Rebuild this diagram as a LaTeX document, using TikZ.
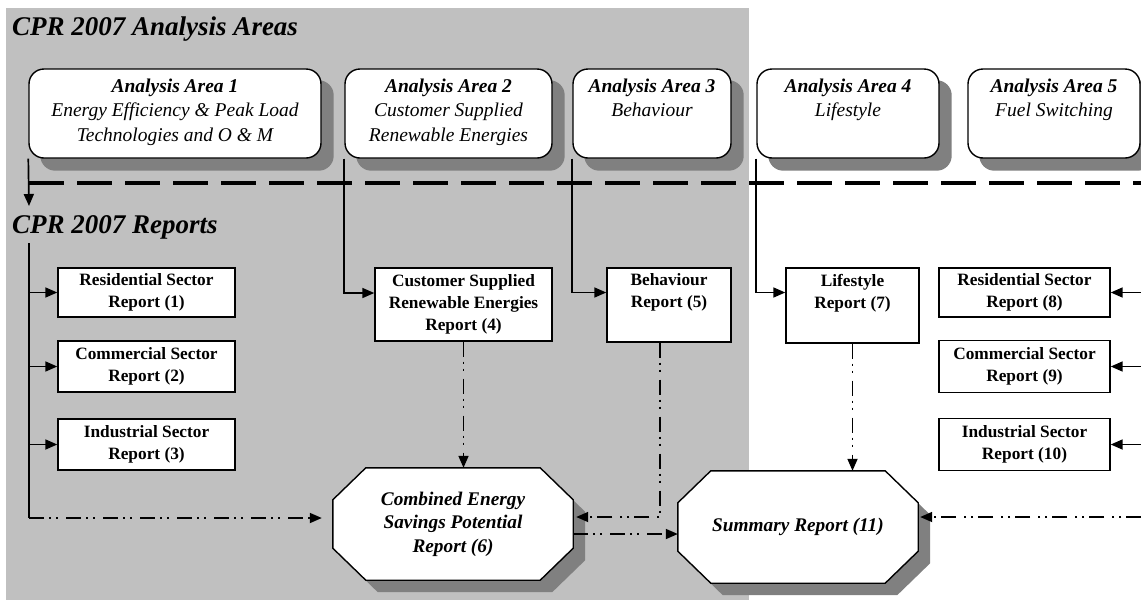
\documentclass[tikz,border=0pt]{standalone}
\usepackage{fontspec}
\setmainfont{Liberation Serif}
\usetikzlibrary{arrows.meta,calc}
\definecolor{bggray}{HTML}{C0C0C0}
\definecolor{shgray}{HTML}{808080}
\pgfdeclarelayer{back}
\pgfdeclarelayer{shade}
\pgfsetlayers{back,shade,main}
\newcommand\octpath[3]{([shift={(33+#2,#3)}]#1.north west) -- ([shift={(-33+#2,#3)}]#1.north east) -- ([shift={(#2,32+#3)}]#1.north east) -- ([shift={(#2,-32+#3)}]#1.south east) -- ([shift={(-33+#2,#3)}]#1.south east) -- ([shift={(33+#2,#3)}]#1.south west) -- ([shift={(#2,-32+#3)}]#1.south west) -- ([shift={(#2,32+#3)}]#1.north west) -- cycle}
\tikzset{
 area/.style={draw, line width=1.4pt, rounded corners=15pt, fill=white, inner sep=0pt, align=center, minimum height=89pt, font=\fontsize{19.5}{24.5}\selectfont\itshape},
 report/.style={draw, line width=1.4pt, fill=white, inner sep=0pt, align=center, font=\fontsize{17.3}{22}\selectfont\bfseries},
 octtext/.style={inner sep=0pt, align=center, minimum width=240pt, minimum height=112pt, font=\fontsize{19.3}{23.5}\selectfont\bfseries\itshape},
 conn/.style={line width=1.7pt, -{Triangle[length=12pt,width=10pt]}},
 plain/.style={line width=1.7pt},
 dd/.style={conn, dash pattern=on 15pt off 5pt on 2pt off 5pt on 2pt off 8pt},
 heading/.style={anchor=base west, inner sep=0pt, font=\fontsize{27}{30}\selectfont\bfseries\itshape},
}
\begin{document}
\begin{tikzpicture}[x=1pt,y=-1pt]
\useasboundingbox (0,0) rectangle (1141,603);
\begin{pgfonlayer}{back}
\fill[bggray] (6,8) rectangle (749,600);
\end{pgfonlayer}

\node[heading] (t1) at (12,35) {CPR 2007 Analysis Areas};
\node[heading] (t2) at (12,233) {CPR 2007 Reports};

% analysis areas
\node[area, minimum width=292pt] (a1) at (175,113.5) {\textbf{Analysis Area 1}\\ Energy Efficiency \& Peak Load\\ Technologies and O \& M\strut};
\node[area, minimum width=207pt] (a2) at (448.5,113.5) {\textbf{Analysis Area 2}\\ Customer Supplied\\ Renewable Energies\strut};
\node[area, minimum width=158pt] (a3) at (652,113.5) {\textbf{Analysis Area 3}\\ Behaviour\\ \strut};
\node[area, minimum width=182pt] (a4) at (848,113.5) {\textbf{Analysis Area 4}\\ Lifestyle\\ \strut};
\node[area, minimum width=172pt] (a5) at (1054,113.5) {\textbf{Analysis Area 5}\\ Fuel Switching\\ \strut};

% reports
\node[report, minimum width=177pt, minimum height=49pt] (r1) at (146.5,292.5) {Residential Sector\\ Report (1)};
\node[report, minimum width=177pt, minimum height=51pt] (r2) at (146.5,366.5) {Commercial Sector\\ Report (2)};
\node[report, minimum width=177pt, minimum height=51pt] (r3) at (146.5,444.5) {Industrial Sector\\ Report (3)};
\node[report, minimum width=177pt, minimum height=73pt] (r4) at (463.5,304.5) {Customer Supplied\\ Renewable Energies\\ Report (4)};
\node[report, minimum width=124pt, minimum height=74pt] (r5) at (669,305) {Behaviour\\ Report (5)\\ \strut};
\node[report, minimum width=133pt, minimum height=75pt] (r7) at (852.5,305.5) {Lifestyle\\ Report (7)\\ \strut};
\node[report, minimum width=171pt, minimum height=49pt] (r8) at (1024.5,292.5) {Residential Sector\\ Report (8)};
\node[report, minimum width=171pt, minimum height=52pt] (r9) at (1024.5,366.5) {Commercial Sector\\ Report (9)};
\node[report, minimum width=171pt, minimum height=52pt] (r10) at (1024.5,444.5) {Industrial Sector\\ Report (10)};

% octagons
\node[octtext] (comb) at (453,524) {Combined Energy\\ Savings Potential\\ Report (6)};
\node[octtext] (summ) at (798,527) {Summary Report (11)};

\begin{pgfonlayer}{shade}
\foreach \n in {a1,a2,a3,a4,a5}
  \fill[shgray, rounded corners=15pt] ([shift={(12,12)}]\n.north west) rectangle ([shift={(12,12)}]\n.south east);
\foreach \n in {comb,summ}{
  \fill[shgray] \octpath{\n}{12}{12};
  \draw[line width=1.4pt, fill=white] \octpath{\n}{0}{0};
}
\end{pgfonlayer}

% dashed separator
\coordinate (dl) at (29,183);
\coordinate (dr) at (1141,183);
\draw[line width=4pt, dash pattern=on 35pt off 13pt] (dl) -- (dr);

% left spine
\coordinate (rephead) at (29,206);
\coordinate (sptop) at (29,243);
\coordinate (spbot) at (29,518);
\draw[conn] (a1.south west) -- (rephead);
\draw[plain] (sptop) -- (spbot);
\foreach \r in {r1,r2,r3}
  \draw[conn] (sptop |- \r.west) -- (\r.west);

% area -> report
\draw[conn] (a2.south west) |- ([yshift=11.5pt]r4.west);
\draw[conn] (a3.south west) |- ([yshift=12.5pt]r5.west);
\draw[conn] (a4.south west) |- ([yshift=13pt]r7.west);

% right inputs
\coordinate (redge) at (1141,0);
\foreach \r in {r8,r9,r10}
  \draw[conn] (redge |- \r.east) -- (\r.east);

% dash-dot connectors
\path (comb.west |- spbot) ++(-11,0) coordinate (lend);
\draw[dd] (spbot) -- (lend);
\draw[dd] (r4.south) -- (r4.south |- comb.north);
\coordinate (r5out) at ([xshift=-9pt]r5.south);
\coordinate (cin) at ([xshift=3pt,yshift=7pt]comb.east);
\draw[dd] (r5out) |- (cin);
\coordinate (c2s) at ([yshift=-10pt]comb.east);
\draw[dd] (c2s) -- (c2s -| summ.west);
\draw[dd] (r7.south) -- (r7.south |- summ.north);
\coordinate (sin) at (1141,517);
\path (sin -| summ.east) ++(2,0) coordinate (send);
\draw[dd] (sin) -- (send);
\end{tikzpicture}
\end{document}
